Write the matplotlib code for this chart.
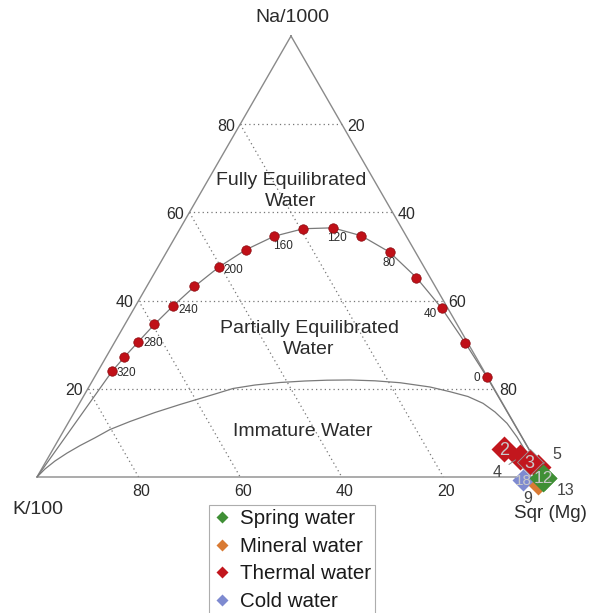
import matplotlib
matplotlib.use('Agg')
import matplotlib.pyplot as plt
from matplotlib.lines import Line2D

plt.rcParams['font.family'] = ['Liberation Sans', 'DejaVu Sans']

# ---------------- data ----------------
grid_values = [20, 40, 60, 80]

# full equilibrium line (Na/1000, K/100, sqrt(Mg) in %), temperatures in degC
eq_temp = [320, 300, 280, 260, 240, 220, 200, 180, 160, 140, 120, 100, 80, 60, 40, 20, 0]
eq_na = [24.0, 27.2, 30.6, 34.6, 38.8, 43.2, 47.6, 51.5, 54.6, 56.3, 56.5, 54.7, 51.0, 45.2, 38.3, 30.4, 22.7]
eq_k = [73.2, 69.2, 64.8, 59.6, 53.8, 47.4, 40.4, 33.2, 26.0, 19.4, 13.5, 8.8, 5.1, 2.7, 1.2, 0.5, 0.1]
eq_mg = [2.8, 3.6, 4.6, 5.8, 7.4, 9.4, 12.0, 15.3, 19.4, 24.3, 30.0, 36.5, 43.9, 52.1, 60.5, 69.1, 77.2]
labelled_temps = [320, 280, 240, 200, 160, 120, 80, 40, 0]

# immature / partial equilibrium boundary (Na %, Mg %; K is the remainder)
imm_na = [0.0, 1.81, 3.63, 5.42, 7.12, 8.89, 10.77, 12.59, 14.63, 16.44, 17.80, 18.82,
          20.07, 20.86, 21.43, 21.77, 21.95, 22.00, 21.81, 21.38, 20.41, 19.34, 18.25,
          16.71, 14.74, 12.18, 9.07, 5.37, 2.49, 0.0]
imm_mg = [0.0, 0.66, 1.73, 3.20, 4.90, 6.97, 8.98, 12.02, 15.92, 19.93, 23.19, 25.63,
          28.55, 32.48, 37.12, 41.88, 46.11, 50.61, 55.63, 60.77, 67.16, 71.63, 75.71,
          79.44, 82.79, 86.43, 89.95, 93.77, 96.98, 100.0]
imm_k = [100.0 - a - b for a, b in zip(imm_na, imm_mg)]

# water samples
sample_id = ['2', '4', '5', '3', '9', '18', '13', '12']
sample_type = ['Thermal water', 'Thermal water', 'Thermal water', 'Thermal water',
               'Mineral water', 'Cold water', 'Spring water', 'Spring water']
sample_na = [6.3, 4.6, 2.2, 3.3, -1.4, -0.7, -0.2, -0.2]
sample_k = [4.9, 2.6, 0.2, 1.4, 2.1, 4.6, 0.3, 0.5]
sample_mg = [88.8, 92.8, 97.6, 95.3, 99.3, 96.1, 99.9, 99.7]

legend_types = ['Spring water', 'Mineral water', 'Thermal water', 'Cold water']
type_colors = {'Spring water': '#3f8f35', 'Mineral water': '#d97a33',
               'Thermal water': '#c2161d', 'Cold water': '#7e8ad0'}

# ---------------- layout ----------------
W, H = 592, 613
X0, Y0, SIDE, HT = 37.0, 477.0, 508.0, 441.0


def proj(na, k, mg):
    tot = na + k + mg
    a = na / tot
    m = mg / tot
    return X0 + SIDE * (m + a / 2.0), Y0 - HT * a


fig = plt.figure(figsize=(W / 100, H / 100), dpi=100)
ax = fig.add_axes([0, 0, 1, 1])
ax.set_xlim(0, W)
ax.set_ylim(H, 0)
ax.axis('off')

edge_c = '#8a8a8a'
txt_c = '#2b2b2b'

# grid: Na lines (horizontal) and K lines (parallel to right edge)
for v in grid_values:
    xa, ya = proj(v, 100 - v, 0)
    xb, yb = proj(v, 0, 100 - v)
    ax.plot([xa, xb], [ya, yb], ls=(0, (1, 2.5)), color='#777777', lw=0.9, zorder=1)
    xa, ya = proj(100 - v, v, 0)
    xb, yb = proj(0, v, 100 - v)
    ax.plot([xa, xb], [ya, yb], ls=(0, (1, 2.5)), color='#777777', lw=0.9, zorder=1)

# triangle
corners = [proj(100, 0, 0), proj(0, 100, 0), proj(0, 0, 100), proj(100, 0, 0)]
ax.plot([c[0] for c in corners], [c[1] for c in corners], color=edge_c, lw=1.0, zorder=2)

# tick labels
for v in grid_values:
    x, y = proj(v, 100 - v, 0)
    ax.text(x - 5, y + 2, str(v), ha='right', va='center', fontsize=11.5, color=txt_c)
    x, y = proj(v, 0, 100 - v)
    ax.text(x + 5, y + 2, str(100 - v), ha='left', va='center', fontsize=11.5, color=txt_c)
    x, y = proj(0, v, 100 - v)
    ax.text(x + 3, y + 15, str(v), ha='center', va='center', fontsize=11.5, color=txt_c)

# corner labels
ax.text(292, 18, 'Na/1000', ha='center', va='center', fontsize=14, color=txt_c)
ax.text(38, 510, 'K/100', ha='center', va='center', fontsize=14, color=txt_c)
ax.text(550, 513, 'Sqr (Mg)', ha='center', va='center', fontsize=13.5, color=txt_c)

# immature curve
pts = [proj(a, b, c) for a, b, c in zip(imm_na, imm_k, imm_mg)]
ax.plot([p[0] for p in pts], [p[1] for p in pts], color='#7a7a7a', lw=0.9, zorder=2)

# full equilibrium line, extended to the K and Mg corners
line_na = [0.0] + eq_na + [0.0]
line_k = [100.0] + eq_k + [0.0]
line_mg = [0.0] + eq_mg + [100.0]
pts = [proj(a, b, c) for a, b, c in zip(line_na, line_k, line_mg)]
ax.plot([p[0] for p in pts], [p[1] for p in pts], color='#7a7a7a', lw=0.9, zorder=2)

eq_pts = [proj(a, b, c) for a, b, c in zip(eq_na, eq_k, eq_mg)]
ax.plot([p[0] for p in eq_pts], [p[1] for p in eq_pts], ls='none', marker='o', ms=6.8,
        mfc='#c01018', mec='#8a0a0f', mew=0.5, zorder=4)

temp_offsets = {320: (14, 2), 280: (15, 1), 240: (15, 4), 200: (14, 3), 160: (9, 10),
                120: (4, 10), 80: (0, 11), 40: (-11, 6), 0: (-10, 1)}
for t, (px, py) in zip(eq_temp, eq_pts):
    if t in labelled_temps:
        dx, dy = temp_offsets[t]
        ax.text(px + dx, py + dy, str(t), ha='center', va='center', fontsize=8.5, color=txt_c)

# region labels
ax.text(291, 191, 'Fully Equilibrated\nWater', ha='center', va='center', fontsize=14,
        color=txt_c, linespacing=1.35)
ax.text(309, 339, 'Partially Equilibrated\nWater', ha='center', va='center', fontsize=14,
        color=txt_c, linespacing=1.35)
ax.text(303, 432, 'Immature Water', ha='center', va='center', fontsize=14, color=txt_c)

# samples
inside = {'2': 13, '3': 13, '12': 12.5, '18': 11}
sizes = {'9': 12.5, '13': 13, '18': 11, '12': 14, '2': 13, '5': 13, '4': 13, '3': 13}
outside = {'4': (-23, 16), '5': (18, -13), '9': (-10, 15), '13': (22, 13)}
for i, (sid, st, a, b, c) in enumerate(zip(sample_id, sample_type, sample_na, sample_k, sample_mg)):
    x, y = proj(a, b, c)
    mec = '#9a9a9a' if sid == '3' else 'none'
    ax.plot([x], [y], ls='none', marker='D', ms=sizes[sid], mfc=type_colors[st],
            mec=mec, mew=0.6, zorder=5 + i)
    if sid in inside:
        ax.text(x, y + 1, sid, ha='center', va='center', fontsize=inside[sid],
                color='#c8c8c8', zorder=20)
    if sid in outside:
        dx, dy = outside[sid]
        ax.annotate(sid, xy=(x, y), xytext=(x + dx, y + dy), ha='center', va='center',
                    fontsize=11.5, color='#444444', zorder=21,
                    arrowprops=dict(arrowstyle='-', color='#888888', lw=0.7,
                                    shrinkA=4, shrinkB=4))

# legend
handles = [Line2D([], [], ls='none', marker='D', ms=6.5, mfc=type_colors[t], mec='none')
           for t in legend_types]
leg = fig.legend(handles, legend_types, loc='upper left',
                 bbox_to_anchor=(209 / W, 1 - 505 / H), frameon=True, fancybox=False,
                 fontsize=14.8, handlelength=0.9, handletextpad=0.41, labelspacing=0.42,
                 borderpad=0.2, borderaxespad=0)
leg.get_frame().set_edgecolor('#999999')
leg.get_frame().set_linewidth(0.8)
for t in leg.get_texts():
    t.set_color('#1a1a1a')

fig.savefig('out.png', dpi=100)
